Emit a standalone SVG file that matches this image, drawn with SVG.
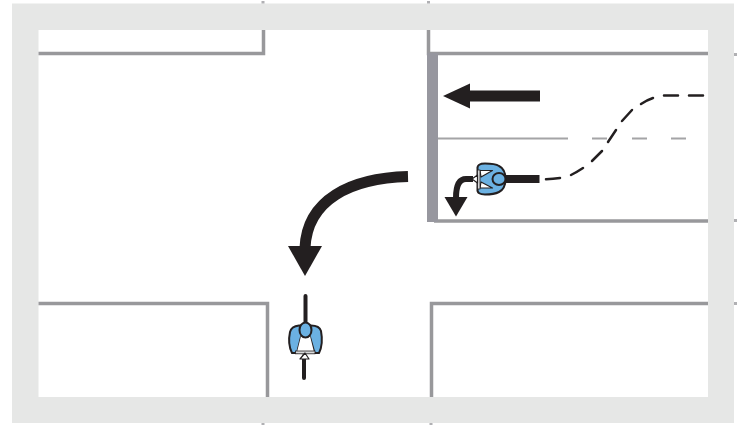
<svg xmlns="http://www.w3.org/2000/svg" width="739" height="425" viewBox="0 0 739 425">
<style>
.road{fill:none;stroke:#98989b;stroke-width:3.500}
.tick{fill:none;stroke:#b0b0b3;stroke-width:3}
.lane{fill:none;stroke:#a4a4a6;stroke-width:2}
.arrow{fill:none;stroke:#231f20;stroke-width:11}
.dash{fill:none;stroke:#231f20;stroke-width:2.500;stroke-linecap:round}
.body{fill:#6bb1e2;stroke:#231f20;stroke-width:2;stroke-linejoin:round}
.wheel{fill:none;stroke:#231f20;stroke-width:4;stroke-linecap:round}
.bar{fill:#d8d9db;stroke:#231f20;stroke-width:.8}
.gap{fill:#fff;stroke:#231f20;stroke-width:1.200;stroke-linejoin:round}
</style>
<rect width="739" height="425" fill="#fff"/>
<path id="frame" fill-rule="evenodd" fill="#e6e7e6" d="M12 3.500H734V423H12ZM38.500 30V397H708V30Z"/>
<g id="ticks">
<path class="tick" d="M263 1V3.500M428.500 1V3.500M263 423V425M431 423V425M735.500 53V56M735.500 219V222M735.500 302V305"/>
</g>
<g id="roads">
<path class="road" d="M38.500 53.500H263.500V30"/>
<path class="road" d="M428.500 30V53.500H708"/>
<path class="road" d="M708 221H434"/>
<path class="road" d="M38.500 303.500H267.500V397"/>
<path class="road" d="M708 303.500H431.500V397"/>
<rect id="kerb" x="427" y="53" width="11" height="169" fill="#97979f"/>
<path class="lane" d="M438 138.500H568M592 138.500H607M632 138.500H647M671 138.500H686"/>
</g>
<g id="connectors">
<path class="arrow" d="M540 96H468"/>
<path fill="#231f20" d="M470 83.500V108.500L443 96Z"/>
<path class="arrow" d="M408 176.500C350 178 307 200 305 248"/>
<path fill="#231f20" d="M288 246H322L305 276Z"/>
<path fill="none" stroke="#231f20" stroke-width="6" d="M473 179H466C459 179 456 186 456 198"/>
<path fill="#231f20" d="M444.500 197H467.500L456 216.500Z"/>
<path class="dash" d="M546 179.300Q553 179 560 178M571 175Q577 172 583 168M592 161Q597 156 602 151M608 142L616 130M622 121L632 110M641 104Q647 100 653 98M664 95.500H678M689 95.500H703"/>
</g>
<g id="cyclist-right">
<path d="M505 179H539.500" fill="none" stroke="#231f20" stroke-width="8"/>
<path class="body" d="M477.500 169C477 165 480 163.500 485 163.500C491 163.500 496 164 499 166C503 168 505.500 172 505.500 179C505.500 186 503 190 499 192C496 193.500 491 194.500 485 194.500C480 194.500 477 193 477.500 189Z"/>
<path class="gap" d="M480 170.500H492.500L481 177ZM480 188H492.500L481 182Z"/>
<rect class="bar" x="477.500" y="170" width="2.500" height="19"/>
<path class="gap" d="M472 179L477.500 175V183Z"/>
<ellipse class="body" cx="499" cy="179" rx="6.500" ry="6"/>
</g>
<g id="cyclist-up">
<path class="wheel" d="M305.500 296V323M304 356V378"/>
<path class="body" d="M299 325.500C295 326 291 328 290 332C288.500 339 289 347 292 353L297 353L301 337H310L314.500 353L319 353C322 347 322.500 339 321 331C320 327.500 316 325.500 311 325.500Z"/>
<path d="M297 352L301 336C303 338 308 338 310 336L314 352Z" fill="#fff"/>
<rect class="bar" x="295.500" y="351" width="19.500" height="2.800"/>
<path class="gap" d="M305 353L300 359H309Z"/>
<ellipse class="body" cx="305.500" cy="330" rx="6" ry="7.500"/>
</g>
</svg>
